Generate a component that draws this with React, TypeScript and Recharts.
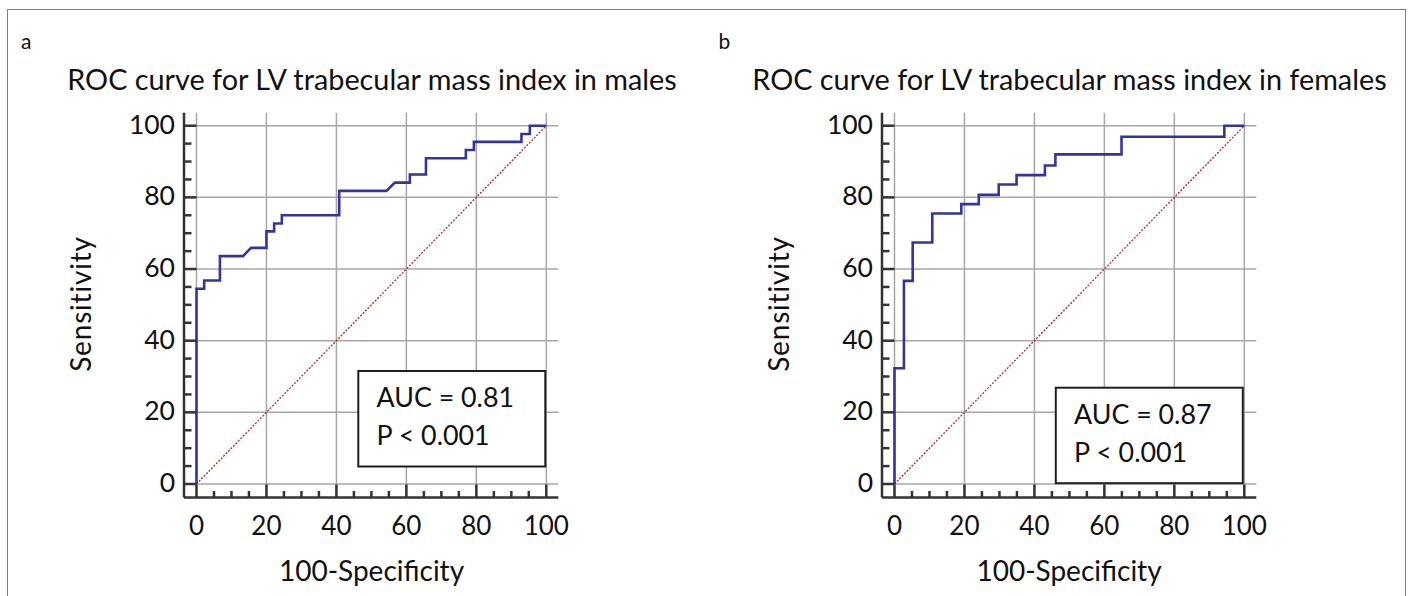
import { ComposedChart, Line, XAxis, YAxis, CartesianGrid } from "recharts";

// tick positions (every 5, labelled every 20)
const axisTicks = [0, 5, 10, 15, 20, 25, 30, 35, 40, 45, 50, 55, 60, 65, 70, 75, 80, 85, 90, 95, 100];
const gridValues = [0, 20, 40, 60, 80, 100];

// males ROC (100-Specificity, Sensitivity)
const malesFpr = [0, 0, 2.2, 2.2, 6.7, 6.7, 13.3, 15.6, 20, 20, 22.2, 22.2, 24.4, 24.4, 40.8, 40.8, 54.3, 56.7, 61, 61, 65.6, 65.6, 77, 77, 79.3, 79.3, 92.9, 92.9, 95.3, 95.3, 100];
const malesTpr = [0, 54.5, 54.5, 56.8, 56.8, 63.6, 63.6, 65.9, 65.9, 70.5, 70.5, 72.7, 72.7, 75, 75, 81.8, 81.8, 84.1, 84.1, 86.4, 86.4, 90.9, 90.9, 93.2, 93.2, 95.5, 95.5, 97.7, 97.7, 100, 100];

// females ROC
const femalesFpr = [0, 0, 2.7, 2.7, 5.2, 5.2, 10.8, 10.8, 19.1, 19.1, 24.1, 24.1, 29.8, 29.8, 34.9, 34.9, 43, 43, 46, 46, 64.9, 64.9, 94.3, 94.3, 100];
const femalesTpr = [0, 32.3, 32.3, 56.7, 56.7, 67.4, 67.4, 75.5, 75.5, 78.1, 78.1, 80.7, 80.7, 83.6, 83.6, 86.2, 86.2, 88.9, 88.9, 92, 92, 96.9, 96.9, 100, 100];

// reference diagonal
const chanceX = [0, 100];
const chanceY = [0, 100];

const FONT = "Lato, 'DejaVu Sans', sans-serif";
const AXIS = "#333333";

const toPoints = (xs: number[], ys: number[]) => xs.map((x, i) => ({ x, y: ys[i] }));

function XTick(props: any) {
    const { x, y, payload } = props;
    const major = payload.value % 20 === 0;
    return (
        <g>
            <line x1={x} x2={x} y1={y} y2={y - (major ? 13 : 6.5)} stroke={AXIS} strokeWidth={2.5} />
            {major && (
                <text x={x} y={y + 37} textAnchor="middle" fontSize={26} fontFamily={FONT} fill="#111">
                    {payload.value}
                </text>
            )}
        </g>
    );
}

function YTick(props: any) {
    const { x, y, payload } = props;
    const major = payload.value % 20 === 0;
    return (
        <g>
            <line x1={x} x2={x + (major ? 12.5 : 7.5)} y1={y} y2={y} stroke={AXIS} strokeWidth={2.5} />
            {major && (
                <text x={x - 9} y={y + 8} textAnchor="end" fontSize={26.5} fontFamily={FONT} fill="#111">
                    {payload.value}
                </text>
            )}
        </g>
    );
}

interface PanelProps {
    left: number;
    fpr: number[];
    tpr: number[];
}

function RocPanel({ left, fpr, tpr }: PanelProps) {
    const roc = toPoints(fpr, tpr);
    const chance = toPoints(chanceX, chanceY);
    return (
        <div style={{ position: "absolute", left, top: 0 }}>
            <ComposedChart width={600} height={596} margin={{ top: 112.7, right: 41.7, bottom: 0, left: 0 }}>
                <CartesianGrid
                    stroke="#a6a6a6"
                    strokeWidth={1.5}
                    verticalValues={gridValues}
                    horizontalValues={gridValues}
                />
                <XAxis
                    type="number"
                    dataKey="x"
                    domain={[-3.57, 103.43]}
                    allowDataOverflow
                    ticks={axisTicks}
                    interval={0}
                    tickSize={0}
                    tickMargin={0}
                    tickLine={false}
                    height={98.5}
                    axisLine={{ stroke: AXIS, strokeWidth: 2.5 }}
                    tick={XTick}
                />
                <YAxis
                    type="number"
                    domain={[-3.77, 103.63]}
                    allowDataOverflow
                    ticks={axisTicks}
                    interval={0}
                    tickSize={0}
                    tickMargin={0}
                    tickLine={false}
                    width={184}
                    axisLine={{ stroke: AXIS, strokeWidth: 2.5 }}
                    tick={YTick}
                />
                <Line
                    data={chance}
                    dataKey="y"
                    type="linear"
                    stroke="#b22a2a"
                    strokeWidth={1.3}
                    strokeDasharray="2 1.5"
                    dot={false}
                    isAnimationActive={false}
                />
                <Line
                    data={roc}
                    dataKey="y"
                    type="linear"
                    stroke="#34349c"
                    strokeWidth={2.6}
                    dot={false}
                    isAnimationActive={false}
                />
            </ComposedChart>
        </div>
    );
}

function PanelText({ left, label, title, auc, p, boxTop }: { left: number; label: string; title: string; auc: string; p: string; boxTop: number }) {
    return (
        <g transform={`translate(${left},0)`} fontFamily={FONT} fill="#111">
            <text x={21} y={48.5} fontSize={21}>{label}</text>
            <text x={372} y={90} fontSize={28.8} textAnchor="middle">{title}</text>
            <text x={371.5} y={581} fontSize={28} textAnchor="middle">100-Specificity</text>
            <text transform="translate(91,304) rotate(-90)" fontSize={28} letterSpacing={0.8} textAnchor="middle">Sensitivity</text>
            <rect x={358.3} y={boxTop} width={187} height={95.5} fill="#fff" stroke="#1e1e1e" strokeWidth={2} />
            <text x={376.5} y={boxTop + 36} fontSize={26.8}>{auc}</text>
            <text x={376.5} y={boxTop + 74.3} fontSize={26.8}>{p}</text>
        </g>
    );
}

export default function App() {
    return (
        <div style={{ position: "absolute", left: 0, top: 0, width: 1408, height: 596, background: "#fff", overflow: "hidden" }}>
            <div
                style={{
                    position: "absolute",
                    left: 6.5,
                    top: 8.5,
                    width: 1397,
                    height: 620,
                    border: "1.5px solid #808080",
                }}
            />
            <RocPanel left={0} fpr={malesFpr} tpr={malesTpr} />
            <RocPanel left={697.5} fpr={femalesFpr} tpr={femalesTpr} />
            <svg width={1408} height={596} style={{ position: "absolute", left: 0, top: 0, pointerEvents: "none" }}>
                <PanelText
                    left={0}
                    label="a"
                    title="ROC curve for LV trabecular mass index in males"
                    auc="AUC = 0.81"
                    p="P < 0.001"
                    boxTop={371}
                />
                <PanelText
                    left={697.5}
                    label="b"
                    title="ROC curve for LV trabecular mass index in females"
                    auc="AUC = 0.87"
                    p="P < 0.001"
                    boxTop={387.7}
                />
            </svg>
        </div>
    );
}
